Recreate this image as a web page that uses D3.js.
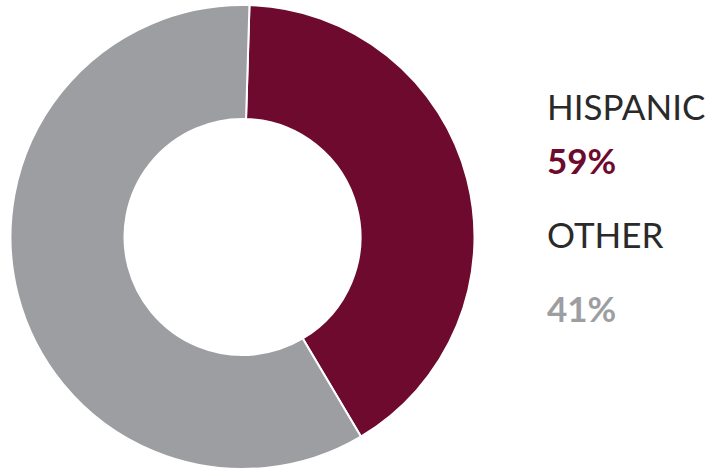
<!DOCTYPE html>
<html>
<head>
<meta charset="utf-8">
<script src="https://cdn.jsdelivr.net/npm/d3@7"></script>
<style>
  html, body { margin: 0; padding: 0; background: #fff; }
  svg { display: block; }
</style>
</head>
<body>
<svg width="707" height="469"></svg>
<script>
// slices as drawn in the picture, clockwise from the top
const slices = ["maroon", "gray"];
const sliceValues = [41, 59];
const sliceColors = ["#6d0a2e", "#9d9ea2"];

// legend text on the right
const labels = ["HISPANIC", "59%", "OTHER", "41%"];
const labelColors = ["#2a2a2a", "#6d0a2e", "#2a2a2a", "#9d9ea2"];
const labelWeights = [400, 700, 400, 700];

const svg = d3.select("svg");

const cx = 242.5, cy = 237;
const outerR = 232, innerR = 118;

const pie = d3.pie()
  .sort(null)
  .startAngle(0.03)
  .endAngle(0.03 + 2 * Math.PI);

const arc = d3.arc().innerRadius(innerR).outerRadius(outerR);

const g = svg.append("g").attr("transform", `translate(${cx},${cy})`);

g.selectAll("path")
  .data(pie(sliceValues))
  .enter()
  .append("path")
  .attr("d", arc)
  .attr("fill", (d, i) => sliceColors[i])
  .attr("stroke", "#fff")
  .attr("stroke-width", 2);

// baselines of the legend lines
const baselines = [120, 173.5, 247.5, 322];

svg.selectAll("text.label")
  .data(labels)
  .enter()
  .append("text")
  .attr("class", "label")
  .attr("x", 547)
  .attr("y", (d, i) => baselines[i])
  .attr("font-family", "Lato, sans-serif")
  .attr("font-size", 35)
  .attr("font-weight", (d, i) => labelWeights[i])
  .attr("fill", (d, i) => labelColors[i])
  .text(d => d);
</script>
</body>
</html>
